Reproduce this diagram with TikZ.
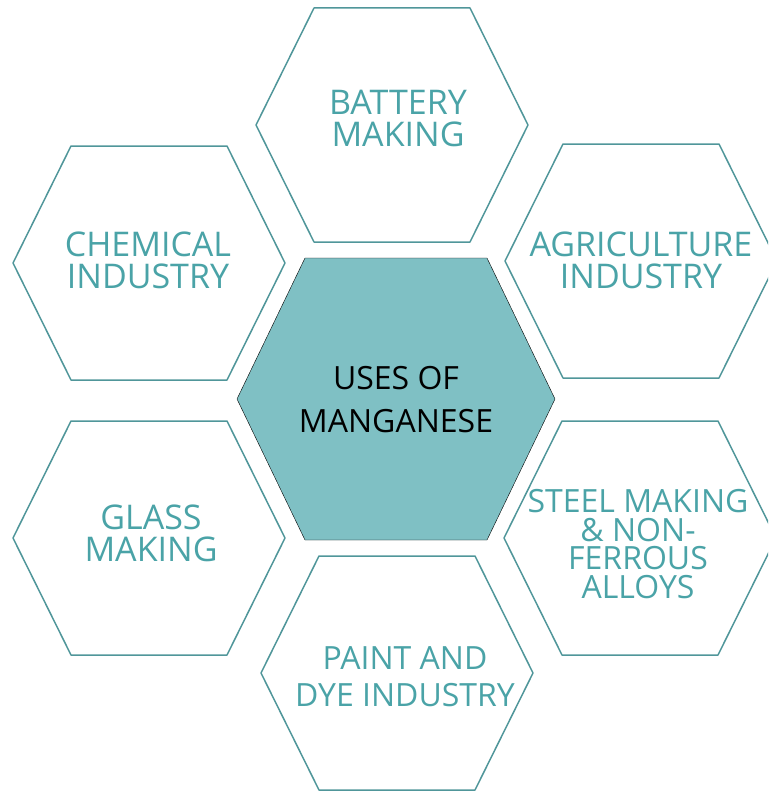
\documentclass[tikz,border=0pt]{standalone}
\usepackage{fontspec}
\setmainfont{Open Sans}
\usetikzlibrary{calc}

\definecolor{hexline}{RGB}{80,150,154}
\definecolor{hextext}{RGB}{74,163,167}
\definecolor{hexfill}{RGB}{127,192,196}

% hexagon: options, centre x, centre y, half width, half width of top edge, half height
\newcommand{\hexcell}[6]{%
  \draw[#1] (#2-#4,#3) -- (#2-#5,#3-#6) -- (#2+#5,#3-#6) -- (#2+#4,#3)
    -- (#2+#5,#3+#6) -- (#2-#5,#3+#6) -- cycle;}

\begin{document}
\begin{tikzpicture}[x=1pt, y=-1pt,
   outer/.style={draw=hexline, line width=1.5pt, line join=round},
   inner/.style={fill=hexfill},
   use/.style={align=center, text=hextext, inner sep=0pt,
     font=\fontsize{34}{32}\selectfont}]

  \useasboundingbox (0,0) rectangle (768,792);
  \clip (0,0) rectangle (768,792);

  \hexcell{inner}{396}{399}{159}{91}{141}
  \hexcell{outer}{392}{125}{136}{78}{117}
  \hexcell{outer}{149}{263}{136}{78}{117}
  \hexcell{outer}{641}{261}{136}{78}{117}
  \hexcell{outer}{149}{538}{136}{78}{117}
  \hexcell{outer}{640}{538}{136}{78}{117}
  \hexcell{outer}{397}{673}{136}{78}{117}

  \node [use, text=black, font=\fontsize{32}{43}\selectfont] (manganese) at (396,400) {USES OF\\MANGANESE};
  \node [use] (battery) at (398,118) {BATTERY\\MAKING};
  \node [use] (chemical) at (148,260) {CHEMICAL\\INDUSTRY};
  \node [use] (agriculture) at (641,260) {AGRICULTURE\\INDUSTRY};
  \node [use] (glass) at (151,533) {GLASS\\MAKING};
  \node [use, font=\fontsize{32}{28.5}\selectfont] (steel) at (638,544) {STEEL MAKING\\\& NON-\\FERROUS\\ALLOYS};
  \node [use, font=\fontsize{32}{37}\selectfont] (paint) at (405,677) {PAINT AND\\DYE INDUSTRY};
\end{tikzpicture}
\end{document}
